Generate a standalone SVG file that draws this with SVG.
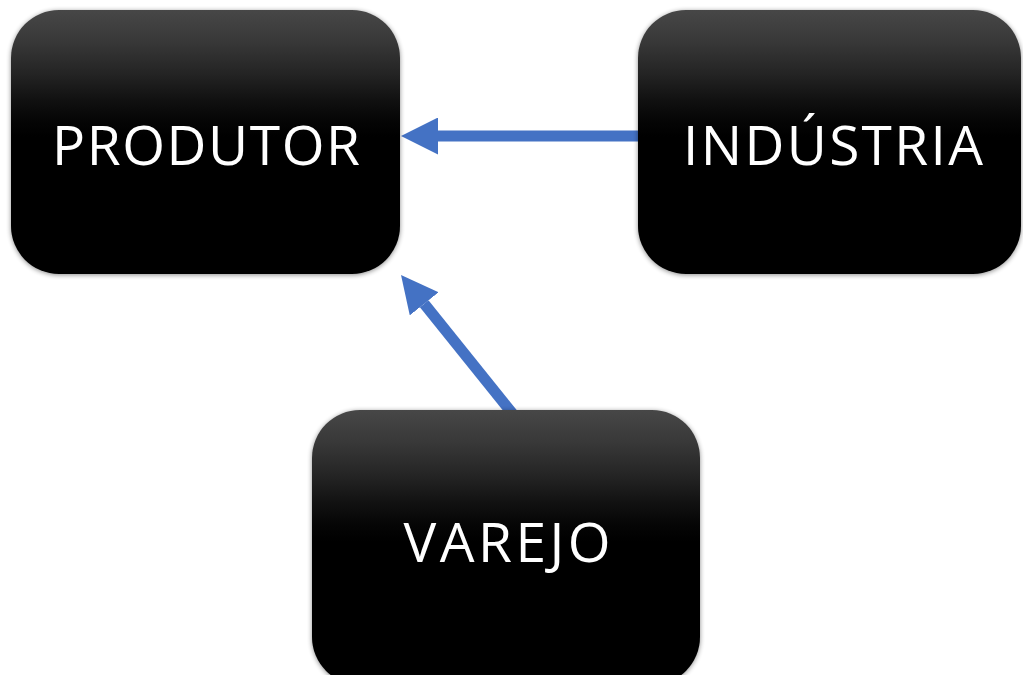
<svg xmlns="http://www.w3.org/2000/svg" width="1023" height="675" viewBox="0 0 1023 675">
<style>
.box{fill:url(#g)}
.shadow{fill:#000;opacity:0.45;filter:url(#blur)}
.lbl{fill:#fff;font-family:"Open Sans","Noto Sans","Liberation Sans",sans-serif;font-size:55px;text-anchor:middle}
.conn{stroke:#4472C4;stroke-width:11;fill:none}
</style>
<defs>
<linearGradient id="g" x1="0" y1="0" x2="0" y2="1">
<stop offset="0" stop-color="#474747"/>
<stop offset="0.12" stop-color="#383838"/>
<stop offset="0.24" stop-color="#242424"/>
<stop offset="0.34" stop-color="#111"/>
<stop offset="0.42" stop-color="#050505"/>
<stop offset="0.48" stop-color="#000"/>
<stop offset="1" stop-color="#000"/>
</linearGradient>
<filter id="blur" x="-10%" y="-10%" width="120%" height="120%">
<feGaussianBlur stdDeviation="2.5"/>
</filter>
<marker id="ah" markerUnits="userSpaceOnUse" markerWidth="37" markerHeight="37" refX="0" refY="18.5" orient="auto" viewBox="0 0 37 37">
<path d="M0,0 L37,18.5 L0,37 z" fill="#4472C4"/>
</marker>
</defs>
<rect width="1023" height="675" fill="#fff"/>
<g id="connectors">
<line class="conn" x1="645" y1="136" x2="438" y2="136" marker-end="url(#ah)"/>
<line class="conn" x1="516" y1="418" x2="424.2" y2="303.8" marker-end="url(#ah)"/>
</g>
<g id="produtor">
<rect class="shadow" x="11" y="11" width="389" height="264" rx="48"/>
<rect class="box" x="11" y="10" width="389" height="264" rx="48"/>
<text class="lbl" x="206" y="165" textLength="308">PRODUTOR</text>
</g>
<g id="industria">
<rect class="shadow" x="638" y="11" width="383" height="264" rx="48"/>
<rect class="box" x="638" y="10" width="383" height="264" rx="48"/>
<text class="lbl" x="833" y="165" textLength="300">INDÚSTRIA</text>
</g>
<g id="varejo">
<rect class="shadow" x="312" y="411" width="388" height="275" rx="48"/>
<rect class="box" x="312" y="410" width="388" height="275" rx="48"/>
<text class="lbl" x="507" y="562" textLength="207">VAREJO</text>
</g>
</svg>
